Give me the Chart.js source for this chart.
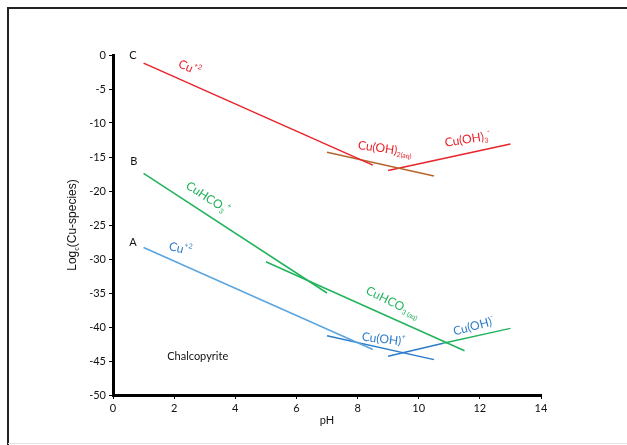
<!DOCTYPE html>
<html>
<head>
    <title>Cu species vs pH</title>
    <script src="https://cdn.jsdelivr.net/npm/chart.js"></script>
    <style>
        body { margin: 0; background: #fff; }
        #wrap { width: 627px; height: 445px; }
    </style>
</head>
<body>
<div id="wrap"><canvas id="chart" width="627" height="445"></canvas></div>

<script>
    // line end points (pH, log value)
    const cuRedPh = [1, 8.5];
    const cuRedLog = [-1.2, -16.2];
    const cuOH2Ph = [7, 10.5];
    const cuOH2Log = [-14.3, -17.8];
    const cuOH3Ph = [9, 13];
    const cuOH3Log = [-17.0, -13.1];

    const hco3PlusPh = [1, 7];
    const hco3PlusLog = [-17.4, -35.0];
    const hco3AqPh = [5, 11.5];
    const hco3AqLog = [-30.4, -43.5];
    const ohMinusGreenPh = [10.8, 13];
    const ohMinusGreenLog = [-42.4, -40.2];

    const cuBluePh = [1, 8.5];
    const cuBlueLog = [-28.3, -43.3];
    const ohPlusPh = [7, 10.5];
    const ohPlusLog = [-41.3, -44.8];
    const ohMinusBluePh = [9, 10.8];
    const ohMinusBlueLog = [-44.3, -42.4];

    const xTicks = [0, 2, 4, 6, 8, 10, 12, 14];
    const yTicks = [0, -5, -10, -15, -20, -25, -30, -35, -40, -45, -50];

    const RED = '#e8232b', BROWN = '#b4652c', GREEN = '#21b35c';
    const LBLUE = '#5ba5de', DBLUE = '#2c7cc9';

    function pts(xs, ys) {
        return xs.map((x, i) => ({ x: x, y: ys[i] }));
    }
    function line(xs, ys, color) {
        return { data: pts(xs, ys), borderColor: color, borderWidth: 1.5,
                 showLine: true, pointRadius: 0, fill: false };
    }

    // text labels: parts with optional sup/sub
    const labels = [
        { at: [0.65, 0], parts: [['C']], color: '#111', rot: 0 },
        { at: [0.68, -15.7], parts: [['B']], color: '#111', rot: 0 },
        { at: [0.65, -27.6], parts: [['A']], color: '#111', rot: 0 },
        { at: [2.5, -1.9], parts: [['Cu'], ['+2', 'sup']], color: RED, rot: 24 },
        { at: [8.9, -13.8], parts: [['Cu(OH)'], ['2(aq)', 'sub']], color: RED, rot: 8 },
        { at: [11.6, -12.4], parts: [['Cu(OH)'], ['3', 'sub'], ['-', 'sup']], color: RED, rot: -9 },
        { at: [3.1, -21.0], parts: [['CuHCO'], ['3', 'sub'], ['+', 'sup']], color: GREEN, rot: 33 },
        { at: [9.15, -36.4], parts: [['CuHCO'], ['3 (aq)', 'sub']], color: GREEN, rot: 26 },
        { at: [2.2, -28.5], parts: [['Cu'], ['+2', 'sup']], color: DBLUE, rot: 14 },
        { at: [8.85, -41.8], parts: [['Cu(OH)'], ['+', 'sup']], color: DBLUE, rot: 7 },
        { at: [11.8, -39.9], parts: [['Cu(OH)'], ['-', 'sup']], color: DBLUE, rot: -15 },
        { at: [2.77, -44.4], parts: [['Chalcopyrite']], color: '#111', rot: 0 }
    ];

    const decor = {
        id: 'decor',
        beforeDraw(chart) {
            const c = chart.ctx;
            c.save();
            c.fillStyle = '#fff';
            c.fillRect(0, 0, chart.width, chart.height);
            c.strokeStyle = '#222';
            c.lineWidth = 2;
            c.beginPath();
            c.moveTo(8, 445); c.lineTo(8, 8); c.lineTo(627, 8);
            c.stroke();
            c.strokeStyle = '#e4e4e4';
            c.lineWidth = 1;
            c.beginPath();
            c.moveTo(8, 443.5); c.lineTo(627, 443.5);
            c.stroke();
            c.restore();
        },
        afterDatasetsDraw(chart) {
            const c = chart.ctx, sx = chart.scales.x, sy = chart.scales.y;
            c.save();
            labels.forEach(l => {
                const px = sx.getPixelForValue(l.at[0]);
                const py = sy.getPixelForValue(l.at[1]);
                const big = l.color === '#111' ? '11px Lato' : '12px Lato';
                const small = '7px Lato';
                let w = 0;
                l.parts.forEach(p => {
                    c.font = p[1] ? small : big;
                    w += c.measureText(p[0]).width;
                });
                c.translate(px, py);
                c.rotate(l.rot * Math.PI / 180);
                c.fillStyle = l.color;
                c.textBaseline = 'middle';
                c.textAlign = 'left';
                let x = -w / 2;
                l.parts.forEach(p => {
                    c.font = p[1] ? small : big;
                    const dy = p[1] === 'sup' ? -5 : p[1] === 'sub' ? 4 : 0;
                    c.fillText(p[0], x, dy);
                    x += c.measureText(p[0]).width;
                });
                c.setTransform(1, 0, 0, 1, 0, 0);
            });

            // axis titles
            c.fillStyle = '#111';
            c.font = '11px Lato';
            c.textAlign = 'center';
            c.textBaseline = 'middle';
            c.fillText('pH', (sx.left + sx.right) / 2, 420);

            c.translate(73, 225);
            c.rotate(-Math.PI / 2);
            c.font = '12px Arial';
            const a = 'Log', b = 'c', d = '(Cu-species)';
            c.font = '12px Arial'; const wa = c.measureText(a).width;
            c.font = '7px Arial'; const wb = c.measureText(b).width;
            c.font = '12px Arial'; const wd = c.measureText(d).width;
            let x0 = -(wa + wb + wd) / 2;
            c.textAlign = 'left';
            c.fillText(a, x0, 0);
            c.font = '7px Arial';
            c.fillText(b, x0 + wa, 4);
            c.font = '12px Arial';
            c.fillText(d, x0 + wa + wb, 0);
            c.restore();
        }
    };

    new Chart(document.getElementById('chart').getContext('2d'), {
        type: 'scatter',
        data: {
            datasets: [
                line(cuRedPh, cuRedLog, RED),
                line(cuOH2Ph, cuOH2Log, BROWN),
                line(cuOH3Ph, cuOH3Log, RED),
                line(hco3PlusPh, hco3PlusLog, GREEN),
                line(hco3AqPh, hco3AqLog, GREEN),
                line(cuBluePh, cuBlueLog, LBLUE),
                line(ohPlusPh, ohPlusLog, DBLUE),
                line(ohMinusBluePh, ohMinusBlueLog, DBLUE),
                line(ohMinusGreenPh, ohMinusGreenLog, GREEN)
            ]
        },
        options: {
            responsive: false,
            animation: false,
            layout: { padding: { top: 55, right: 86, left: 0, bottom: 0 } },
            plugins: { legend: { display: false }, tooltip: { enabled: false } },
            scales: {
                x: {
                    type: 'linear', min: 0, max: 14,
                    afterFit: s => { s.height = 50; },
                    afterBuildTicks: s => { s.ticks = xTicks.map(v => ({ value: v })); },
                    border: { color: '#000', width: 3 },
                    grid: { drawOnChartArea: false, color: '#000', tickLength: 4, tickWidth: 1 },
                    ticks: { color: '#111', font: { family: 'Lato', size: 11 }, padding: 3, maxRotation: 0 }
                },
                y: {
                    type: 'linear', min: -50, max: 0,
                    afterFit: s => { s.width = 113; },
                    afterBuildTicks: s => { s.ticks = yTicks.map(v => ({ value: v })); },
                    border: { color: '#000', width: 3 },
                    grid: { drawOnChartArea: false, color: '#000', tickLength: 4, tickWidth: 1 },
                    ticks: { color: '#111', font: { family: 'Lato', size: 11 }, padding: 3 }
                }
            }
        },
        plugins: [decor]
    });
</script>
</body>
</html>
